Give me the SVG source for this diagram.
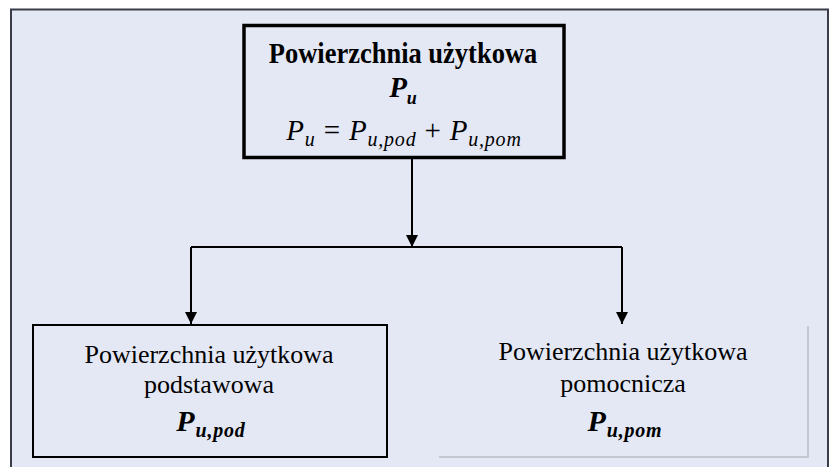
<svg xmlns="http://www.w3.org/2000/svg" width="831" height="467" viewBox="0 0 831 467">
<style>
.t{font-family:"Liberation Serif","Times New Roman",serif;fill:#000}
.b{font-weight:bold}
.i{font-style:italic}
.up{font-style:normal}
.conn{stroke:#000;stroke-width:2;fill:none}
</style>
<defs>
<marker id="ah" markerUnits="userSpaceOnUse" viewBox="0 0 12 12" refX="12" refY="6" markerWidth="12" markerHeight="12" orient="auto">
<path d="M0,0 L12,6 L0,12 z" fill="#000"/>
</marker>
</defs>
<rect x="0" y="0" width="831" height="467" fill="#fff"/>
<rect id="frame" x="11" y="9.5" width="817" height="480" fill="#e4e8f5" stroke="#3a3d48" stroke-width="2"/>
<g id="top">
<rect x="244" y="25.5" width="320" height="132" fill="none" stroke="#000" stroke-width="3.5"/>
<text class="t b" font-size="26.5" text-anchor="middle" transform="translate(403,63) scale(1,1.12)">Powierzchnia użytkowa</text>
<text class="t b i" font-size="29" text-anchor="middle" x="403" y="97">P<tspan font-size="18" dy="7">u</tspan></text>
<text class="t i" font-size="29" text-anchor="middle" x="404" y="140" letter-spacing="0.8">P<tspan font-size="20" dy="6">u</tspan><tspan class="up" dy="-6"> = </tspan>P<tspan font-size="20" dy="6">u,pod</tspan><tspan class="up" dy="-6"> + </tspan>P<tspan font-size="20" dy="6">u,pom</tspan></text>
</g>
<g id="connectors">
<line class="conn" x1="412" y1="158" x2="412" y2="247" marker-end="url(#ah)"/>
<line class="conn" x1="191" y1="247" x2="622" y2="247"/>
<line class="conn" x1="191" y1="247" x2="191" y2="324" marker-end="url(#ah)"/>
<line class="conn" x1="622" y1="247" x2="622" y2="324" marker-end="url(#ah)"/>
</g>
<g id="pod">
<rect x="33" y="325" width="354" height="132" fill="none" stroke="#000" stroke-width="2"/>
<text class="t" font-size="26" text-anchor="middle" x="209" y="363">Powierzchnia użytkowa</text>
<text class="t" font-size="26" text-anchor="middle" x="209" y="393">podstawowa</text>
<text class="t b i" font-size="30" text-anchor="middle" x="211" y="431" letter-spacing="0.8">P<tspan font-size="20" dy="6">u,pod</tspan></text>
</g>
<g id="pom">
<path d="M808,326 V457 H439" fill="none" stroke="#c3c7d0" stroke-width="2"/>
<text class="t" font-size="26" text-anchor="middle" x="623" y="360">Powierzchnia użytkowa</text>
<text class="t" font-size="26" text-anchor="middle" x="623" y="392">pomocnicza</text>
<text class="t b i" font-size="30" text-anchor="middle" x="625" y="431" letter-spacing="0.8">P<tspan font-size="20" dy="6">u,pom</tspan></text>
</g>
</svg>
